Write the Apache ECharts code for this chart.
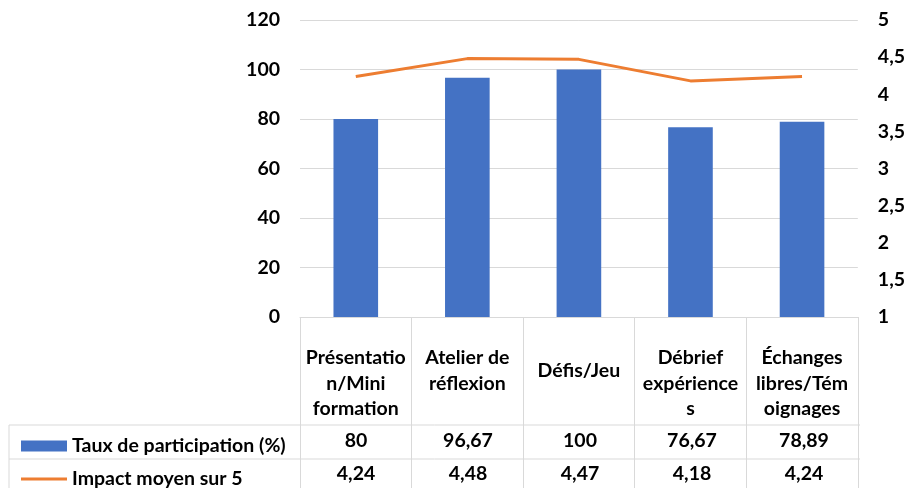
<!DOCTYPE html>
<html>
<head>
<meta charset="utf-8">
<script src="https://cdn.jsdelivr.net/npm/echarts@6/dist/echarts.min.js"></script>
<style>
  html, body { margin: 0; padding: 0; background: #fff; }
  #chart { width: 908px; height: 488px; }
</style>
</head>
<body>
<div id="chart"></div>
<script>
// categories as they wrap in the table header
var categories = [
  'Présentatio\nn/Mini\nformation',
  'Atelier de\nréflexion',
  'Défis/Jeu',
  'Débrief\nexpérience\ns',
  'Échanges\nlibres/Tém\noignages'
]
var participation = [80, 96.67, 100, 76.67, 78.89] // Taux de participation (%)
var impact = [4.24, 4.48, 4.47, 4.18, 4.24]        // Impact moyen sur 5
var leftTicks = [0, 120, 20]
var rightTicks = [1, 5, 0.5]

var FONT = 'Lato'
var FS = 19.5
var GRID = { left: 300, right: 48, top: 20, bottom: 171 }
var BORDER = '#d9d9d9'

function fr(v) {
  return String(v).replace('.', ',')
}

var chart = echarts.init(document.getElementById('chart'))

function tableGraphics() {
  var w = 908 - GRID.left - GRID.right
  var band = w / categories.length
  var row1 = 425, row2 = 459, end = 488
  var els = [
    { type: 'line', shape: { x1: 9, y1: row1, x2: GRID.left + w, y2: row1 }, style: { stroke: BORDER, lineWidth: 1 } },
    { type: 'line', shape: { x1: 9, y1: row2, x2: GRID.left + w, y2: row2 }, style: { stroke: BORDER, lineWidth: 1 } },
    { type: 'line', shape: { x1: 9, y1: row1, x2: 9, y2: end }, style: { stroke: BORDER, lineWidth: 1 } }
  ]
  var rows = [
    { y: 441, vals: participation },
    { y: 474, vals: impact }
  ]
  rows.forEach(function(r) {
    r.vals.forEach(function(v, i) {
      els.push({
        type: 'text',
        x: GRID.left + band * (i + 0.5),
        y: r.y,
        style: {
          text: fr(v),
          font: 'bold ' + FS + 'px ' + FONT,
          fill: '#000',
          align: 'center',
          verticalAlign: 'middle'
        }
      })
    })
  })
  return els
}

var txt = { fontFamily: FONT, fontWeight: 'bold', fontSize: FS, color: '#000' }

chart.setOption({
  animation: false,
  color: ['#4472C4', '#ED7D31'],
  grid: GRID,
  legend: [
    {
      data: ['Taux de participation (%)'],
      left: 16, top: 431,
      itemWidth: 46, itemHeight: 11,
      itemGap: 0,
      icon: 'rect',
      textStyle: txt
    },
    {
      data: ['Impact moyen sur 5'],
      left: 16, top: 464,
      itemWidth: 46, itemHeight: 3,
      icon: 'rect',
      textStyle: txt
    }
  ],
  xAxis: {
    type: 'category',
    data: categories,
    axisLine: { lineStyle: { color: BORDER } },
    axisTick: { show: true, length: 171, lineStyle: { color: BORDER } },
    axisLabel: {
      interval: 0,
      margin: 28,
      verticalAlign: 'top',
      lineHeight: 25.5,
      fontFamily: FONT, fontWeight: 'bold', fontSize: FS, color: '#000',
      formatter: function(v) {
        return v.indexOf('\n') < 0 ? '{one|' + v + '}' : v
      },
      rich: {
        one: { padding: [25.5, 0, 0, 0], fontFamily: FONT, fontWeight: 'bold', fontSize: FS, color: '#000', lineHeight: 25.5 }
      }
    }
  },
  yAxis: [
    {
      type: 'value',
      min: leftTicks[0], max: leftTicks[1], interval: leftTicks[2],
      axisLine: { show: false },
      axisTick: { show: false },
      splitLine: { lineStyle: { color: BORDER } },
      axisLabel: Object.assign({ margin: 20 }, txt)
    },
    {
      type: 'value',
      min: rightTicks[0], max: rightTicks[1], interval: rightTicks[2],
      axisLine: { show: false },
      axisTick: { show: false },
      splitLine: { show: false },
      axisLabel: Object.assign({ margin: 20, formatter: fr }, txt)
    }
  ],
  series: [
    {
      name: 'Taux de participation (%)',
      type: 'bar',
      barWidth: '40%',
      data: participation
    },
    {
      name: 'Impact moyen sur 5',
      type: 'line',
      yAxisIndex: 1,
      symbol: 'none',
      lineStyle: { width: 3 },
      data: impact
    }
  ],
  graphic: tableGraphics()
})
</script>
</body>
</html>
